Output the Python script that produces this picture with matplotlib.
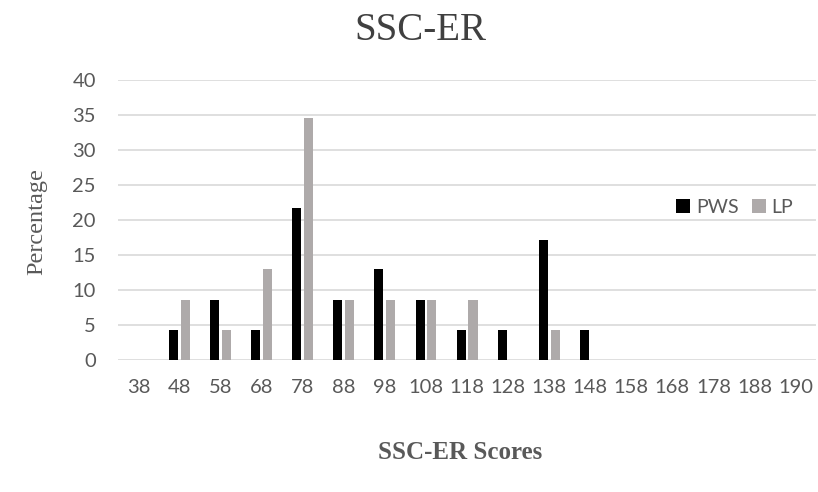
import numpy as np
from matplotlib import pyplot as plt

scores = ['38', '48', '58', '68', '78', '88', '98', '108', '118', '128',
          '138', '148', '158', '168', '178', '188', '190']
pws = [0, 4.3, 8.6, 4.3, 21.7, 8.6, 13.0, 8.6, 4.3, 4.3,
       17.2, 4.3, 0, 0, 0, 0, 0]
lp = [0, 8.6, 4.3, 13.0, 34.5, 8.6, 8.6, 8.6, 8.6, 0,
      4.3, 0, 0, 0, 0, 0, 0]

fig = plt.figure(figsize=(8.18, 4.92), dpi=100)
ax = fig.add_axes([0.1443, 0.2683, 0.8533, 0.5691])

x = np.arange(len(scores))
w = 0.22
ax.bar(x - 0.145, pws, w, color='black', label='PWS', zorder=3)
ax.bar(x + 0.145, lp, w, color='#aeaaaa', label='LP', zorder=3)

ax.set_xlim(-0.5, len(scores) - 0.5)
ax.set_ylim(0, 40)
ax.set_yticks(range(0, 41, 5))
ax.set_xticks(x)
ax.set_xticklabels(scores)
ax.grid(axis='y', color='#d9d9d9', linewidth=1.2, zorder=0)
for s in ax.spines.values():
    s.set_visible(False)
ax.tick_params(length=0, labelsize=14.5, labelcolor='#595959')
ax.tick_params(axis='x', pad=14)
ax.tick_params(axis='y', pad=16)
for lab in ax.get_xticklabels() + ax.get_yticklabels():
    lab.set_family('Lato')

fig.text(0.514, 0.938, 'SSC-ER', family='Liberation Serif', fontsize=28,
         color='#404040', ha='center', va='center')
fig.text(0.045, 0.55, 'Percentage', family='Liberation Serif', fontsize=17.5,
         color='#595959', rotation=90, ha='center', va='center')
fig.text(0.562, 0.081, 'SSC-ER Scores', family='Liberation Serif', fontsize=18,
         fontweight='bold', color='#595959', ha='center', va='center')

leg = ax.legend(loc='center left', bbox_to_anchor=(0.775, 0.545), frameon=False,
                ncol=2, handlelength=0.7, handleheight=0.7, handletextpad=0.3,
                columnspacing=0.7, prop={'family': 'Lato', 'size': 14})
for t in leg.get_texts():
    t.set_color('#595959')

fig.savefig('out.png')
